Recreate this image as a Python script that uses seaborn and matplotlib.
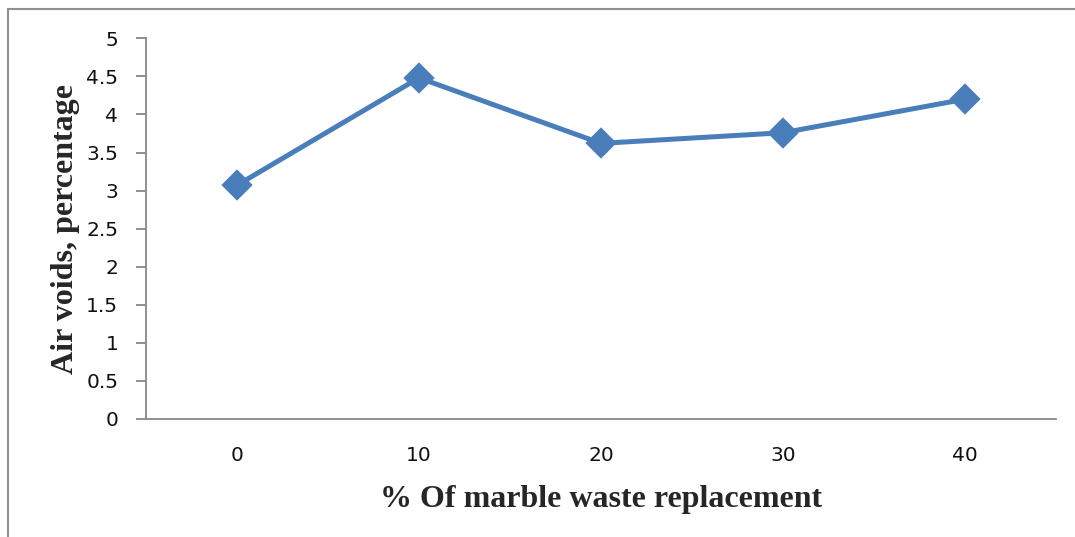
import matplotlib
matplotlib.use("Agg")
import matplotlib.pyplot as plt
import seaborn as sns
import pandas as pd
from matplotlib.patches import Rectangle

# Data
replacement = ["0", "10", "20", "30", "40"]
air_voids = [3.07, 4.48, 3.62, 3.76, 4.20]
y_ticks = [0, 0.5, 1, 1.5, 2, 2.5, 3, 3.5, 4, 4.5, 5]
y_tick_labels = ["0", "0.5", "1", "1.5", "2", "2.5", "3", "3.5", "4", "4.5", "5"]

sns.set_style("white")
plt.rcParams["font.family"] = ["DejaVu Sans"]

df = pd.DataFrame({"rep": replacement, "av": air_voids})

fig = plt.figure(figsize=(10.75, 5.37), dpi=100)
ax = fig.add_axes([146 / 1075, 1 - 419 / 537, (1056 - 146) / 1075, (419 - 38.3) / 537])

sns.pointplot(data=df, x="rep", y="av", order=replacement, ax=ax,
              color="#4A7EBB", markers="D", linestyles="-", errorbar=None,
              markersize=13, linewidth=3.6)

ax.set_xlim(-0.5, 4.5)
ax.set_ylim(0, 5)
ax.set_yticks(y_ticks)
ax.set_yticklabels(y_tick_labels)

axis_gray = "#868686"
for s in ["top", "right"]:
    ax.spines[s].set_visible(False)
for s in ["left", "bottom"]:
    ax.spines[s].set_color(axis_gray)
    ax.spines[s].set_linewidth(1.3)

ax.tick_params(axis="y", which="both", left=True, length=7, width=1.3, color=axis_gray,
               labelsize=14.5, pad=13, direction="out")
ax.tick_params(axis="x", bottom=False, labelsize=14.5, pad=16)
for lab in ax.get_yticklabels() + ax.get_xticklabels():
    lab.set_color("#111111")
ax.grid(False)

ax.set_xlabel("% Of marble waste replacement", fontsize=23, fontweight="bold",
              family="Liberation Serif")
ax.set_ylabel("Air voids, percentage", fontsize=23, fontweight="bold",
              family="Liberation Serif")
ax.xaxis.set_label_coords(0.5, (419 - 485) / (419 - 38.3))
ax.yaxis.set_label_coords((80 - 146) / (1056 - 146), 0.5)

# outer frame (partially visible)
fig.patches.append(Rectangle((8 / 1075, -0.1), 1.2, 1 - 9 / 537 + 0.1,
                             transform=fig.transFigure, fill=False,
                             edgecolor="#909090", linewidth=1.5))

fig.savefig("out.png", dpi=100, facecolor="white")
